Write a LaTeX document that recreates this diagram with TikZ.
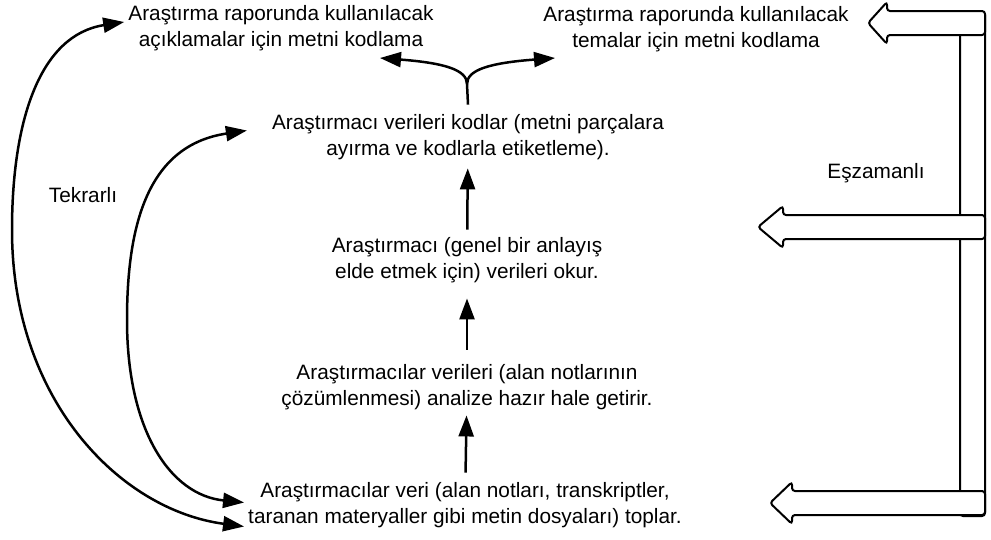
\documentclass[tikz,border=0pt]{standalone}
\usepackage{fontspec}
\setmainfont{Liberation Sans}
\usetikzlibrary{arrows.meta}

\begin{document}
\begin{tikzpicture}
  [
    x=1pt, y=-1pt,
    txt/.style={align=center, inner sep=0pt, font=\fontsize{20.8}{26}\selectfont},
    tag/.style={anchor=base, inner sep=0pt, font=\fontsize{20.8}{26}\selectfont},
    flow/.style={line width=2.5pt, -{Triangle[length=21pt,width=15pt]}},
    loop/.style={line width=2.5pt, {Triangle[length=21pt,width=15pt]}-{Triangle[length=21pt,width=15pt]}},
    blockarr/.style={draw, fill=white, line width=2pt, rounded corners=3pt}
  ]
  \useasboundingbox (0,0) rectangle (991,539);
  % steps
  \node [txt] (coll) at (465,505.5) {Araştırmacılar veri (alan notları, transkriptler,\\taranan materyaller gibi metin dosyaları) toplar.};
  \node [txt] (prep) at (467,387.5) {Araştırmacılar verileri (alan notlarının\\çözümlenmesi) analize hazır hale getirir.};
  \node [txt] (read) at (467,260.5) {Araştırmacı (genel bir anlayış\\elde etmek için) verileri okur.};
  \node [txt] (code) at (468,137.5) {Araştırmacı verileri kodlar (metni parçalara\\ayırma ve kodlarla etiketleme).};
  \node [txt] (desc) at (281,28) {Araştırma raporunda kullanılacak\\açıklamalar için metni kodlama};
  \node [txt] (theme) at (696,29) {Araştırma raporunda kullanılacak\\temalar için metni kodlama};
  % labels
  \node [tag] (tekrar) at (83,202) {Tekrarlı};
  \node [tag] (eszam) at (876,178) {Eşzamanlı};
  % upward steps
  \draw [flow, shorten <=10pt, shorten >=5pt] (coll) -- (prep);
  \draw [flow, shorten <=15pt, shorten >=15pt] (prep) -- (read);
  \draw [flow, shorten <=8pt, shorten >=8pt] (read) -- (code);
  % fork to the two coding aims
  \coordinate (fork) at (467,84);
  \coordinate (leftend) at (380,58);
  \coordinate (rightend) at (555,58);
  \draw [line width=2.5pt] ([yshift=10pt]code.north) -- (fork);
  \draw [flow] (fork) .. controls (467,70) and (445,63) .. (leftend);
  \draw [flow] (fork) .. controls (467,70) and (489,63) .. (rightend);
  % iterative loops
  \draw [loop] ([xshift=-4pt,yshift=6pt]desc.west) .. controls (40,35) and (12,120) .. (12,230)
    .. controls (12,400) and (120,510) .. ([xshift=-4pt,yshift=-21pt]coll.west);
  \draw [loop] ([xshift=-25pt,yshift=7pt]code.west) .. controls (150,145) and (127,220) .. (127,320)
    .. controls (127,430) and (170,495) .. ([xshift=-4pt,yshift=3pt]coll.west);
  % simultaneous bar
  \draw [blockarr] (960,12) rectangle (985,516);
  \foreach \tx/\ty/\bx in {868/23/887, 758/227/783, 770/503/792} {
    \draw [blockarr] (\tx,\ty) -- (\bx,\ty-21) -- (\bx,\ty-12) -- (985,\ty-12)
      -- (985,\ty+12) -- (\bx,\ty+12) -- (\bx,\ty+21) -- cycle;
  }
\end{tikzpicture}
\end{document}
